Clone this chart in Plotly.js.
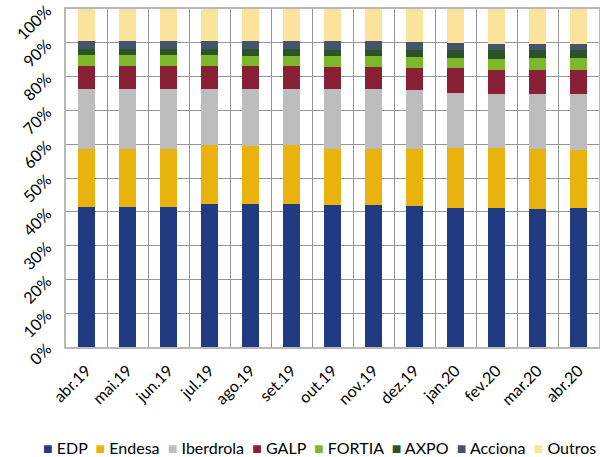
<!DOCTYPE html>
<html>
<head>
<meta charset="utf-8">
<script src="https://cdn.plot.ly/plotly-3.0.1.min.js"></script>
<style>
  html, body { margin: 0; padding: 0; background: #fff; }
  #chart { width: 600px; height: 457px; }
</style>
</head>
<body>
<div id="chart"></div>
<script>
'use strict';

// Months (categories)
var months = ['abr.19', 'mai.19', 'jun.19', 'jul.19', 'ago.19', 'set.19', 'out.19',
    'nov.19', 'dez.19', 'jan.20', 'fev.20', 'mar.20', 'abr.20'];

// Market shares in %
var edp       = [41.5, 41.5, 41.5, 42.4, 42.4, 42.4, 42.1, 42.1, 41.7, 41.2, 41.2, 40.9, 41.2];
var endesa    = [17.1, 17.1, 17.1, 17.4, 17.0, 17.4, 16.5, 16.5, 16.9, 17.6, 17.6, 17.7, 17.0];
var iberdrola = [17.6, 17.6, 17.6, 16.4, 16.8, 16.4, 17.6, 17.6, 17.3, 16.4, 16.1, 16.3, 16.7];
var galp      = [6.9, 6.9, 6.9, 6.9, 6.9, 6.9, 6.6, 6.6, 6.5, 7.2, 7.2, 7.2, 7.2];
var fortia    = [3.4, 3.4, 3.4, 3.4, 3.1, 3.1, 3.4, 3.4, 3.4, 3.1, 3.1, 3.4, 3.4];
var axpo      = [1.7, 1.7, 1.7, 1.7, 2.0, 2.0, 1.8, 1.8, 2.2, 2.5, 2.8, 2.5, 2.5];
var acciona   = [2.4, 2.4, 2.4, 2.4, 2.4, 2.4, 2.4, 2.4, 2.1, 1.8, 1.5, 1.5, 1.5];
var outros    = [9.4, 9.4, 9.4, 9.4, 9.4, 9.4, 9.6, 9.6, 9.9, 10.2, 10.5, 10.5, 10.5];

var seriesNames = ['EDP', 'Endesa', 'Iberdrola', 'GALP', 'FORTIA', 'AXPO', 'Acciona', 'Outros'];
var seriesValues = [edp, endesa, iberdrola, galp, fortia, axpo, acciona, outros];
var seriesColors = ['#203b82', '#e9b20c', '#bdbdbd', '#8a2035', '#7cb82a', '#2b5429', '#44546b', '#fbe39b'];

var data = seriesNames.map(function (name, i) {
    return {
        type: 'bar',
        name: name,
        x: months,
        y: seriesValues[i],
        marker: {color: seriesColors[i], line: {width: 0}},
        hoverinfo: 'x+y+name'
    };
});

// Compact legend, Excel style: coloured square then the name, all on one row
var legendText = seriesNames.map(function (name, i) {
    return '<span style="color:' + seriesColors[i] + '">\u25A0</span> ' + name;
}).join('\u00A0\u00A0');

var layout = {
    width: 600,
    height: 457,
    barmode: 'stack',
    bargap: 0.585,
    paper_bgcolor: '#fff',
    plot_bgcolor: '#fff',
    font: {family: 'Lato, "Open Sans", sans-serif', size: 15, color: '#000'},
    margin: {l: 66, r: 1, t: 9, b: 110},
    showlegend: false,
    annotations: [{
        xref: 'paper', yref: 'paper',
        x: 0.476, y: -0.296,
        xanchor: 'center', yanchor: 'middle',
        showarrow: false,
        text: legendText,
        font: {size: 16, color: '#000'}
    }],
    xaxis: {
        type: 'category',
        tickson: 'boundaries',
        ticks: '',
        tickangle: -45,
        showgrid: true,
        gridcolor: '#959595',
        gridwidth: 1,
        showline: true,
        linecolor: '#b8b8b8',
        linewidth: 2,
        mirror: true,
        ticklabelstandoff: 6,
        tickfont: {size: 16}
    },
    yaxis: {
        range: [0, 100],
        dtick: 10,
        ticksuffix: '%',
        tickangle: -45,
        showgrid: true,
        gridcolor: '#959595',
        gridwidth: 1,
        zeroline: false,
        showline: true,
        linecolor: '#b8b8b8',
        linewidth: 2,
        mirror: true,
        ticks: '',
        ticklabelstandoff: 14,
        tickfont: {size: 16}
    }
};

Plotly.newPlot('chart', data, layout, {displayModeBar: false, staticPlot: true});
</script>
</body>
</html>
